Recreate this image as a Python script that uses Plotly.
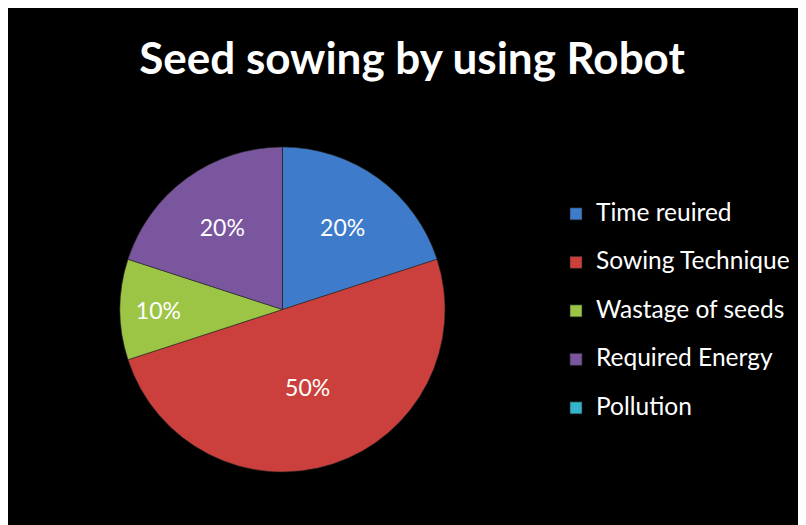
import plotly.graph_objects as go

title_text = "Seed sowing by using Robot"
categories = ["Time reuired", "Sowing Technique", "Wastage of seeds", "Required Energy", "Pollution"]
values = [20, 50, 10, 20, 0]
colors = ["#3E7CCB", "#CB403C", "#9CC546", "#7A569F", "#35B2CC"]

W, H = 806, 525

# two-line legend labels (second line blank) to reproduce the wide row spacing
labels = ["<span style='font-size:24.5px'>%s</span><br> " % c for c in categories]
texts = ["%d%%" % v if v > 0 else "" for v in values]

cx, cy, r = 274.5, 301.5, 162.5

fig = go.Figure()
fig.add_trace(go.Pie(
    labels=labels,
    values=values,
    text=texts,
    textinfo="text",
    hoverinfo="skip",
    sort=False,
    direction="clockwise",
    rotation=0,
    marker=dict(colors=colors, line=dict(color="rgba(40,40,40,0.6)", width=1)),
    textfont=dict(family="Lato", size=23, color="white"),
    insidetextorientation="horizontal",
    textposition="inside",
    domain=dict(x=[(cx - r) / W, (cx + r) / W],
                y=[(H - cy - r) / H, (H - cy + r) / H]),
    showlegend=True,
))

fig.update_layout(
    width=W, height=H,
    margin=dict(l=0, r=0, t=0, b=0),
    paper_bgcolor="black",
    plot_bgcolor="black",
    title=dict(text="<b>%s</b>" % title_text, x=404 / W, xanchor="center",
               y=1 - 51 / H, yanchor="middle",
               font=dict(family="Lato", size=44, color="white")),
    legend=dict(x=548 / W, xanchor="left", y=1 - 188 / H, yanchor="top",
                font=dict(family="Lato", size=17.5, color="white"),
                valign="top",
                bgcolor="rgba(0,0,0,0)", traceorder="normal"),
)

fig.write_html("out.html")
